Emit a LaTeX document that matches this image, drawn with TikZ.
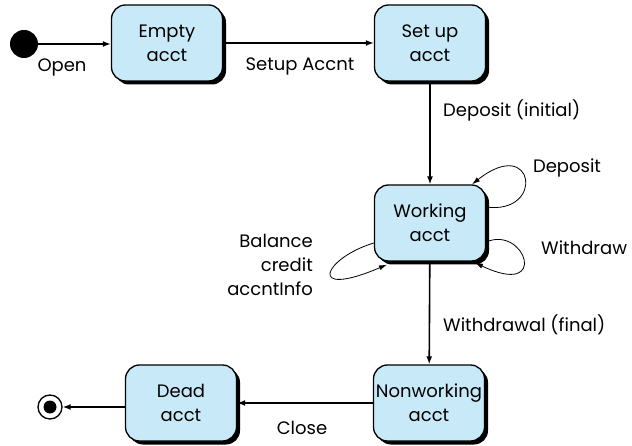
\documentclass[tikz,border=0pt]{standalone}
\usepackage{fontspec}
\setmainfont{Poppins}
\usetikzlibrary{arrows.meta,shadows}
\definecolor{boxblue}{RGB}{200,234,248}
\begin{document}
\begin{tikzpicture}[x=1pt,y=-1pt,
  font=\fontsize{18}{24}\selectfont,
  state/.style={draw=black,line width=1.3pt,fill=boxblue,rounded corners=14pt,
    minimum width=111pt,minimum height=76pt,inner sep=0pt,align=center,
    drop shadow={shadow xshift=3.5pt,shadow yshift=-3.5pt,fill=black,opacity=1}},
  flow/.style={line width=1.6pt,-{Latex[length=8pt,width=6pt]}},
  loop/.style={line width=0.8pt,-{Latex[length=8pt,width=5pt]}},
  lbl/.style={inner sep=0pt}]
\useasboundingbox (0,0) rectangle (632,446);
\node[circle,fill=black,minimum size=28pt,inner sep=0pt] (init) at (24,44) {};
\node[state] (empty) at (167,43) {Empty\\acct};
\node[state] (setup) at (430,43) {Set up\\acct};
\node[state] (work) at (430,223) {Working\\acct};
\node[state] (nonw) at (429,403) {Nonworking\\acct};
\node[state] (dead) at (181,403) {Dead\\acct};
\node[circle,draw=black,line width=1.3pt,minimum size=24pt,inner sep=0pt] (fin) at (50,407) {};
\node[circle,fill=black,minimum size=13pt,inner sep=0pt] (finin) at (fin.center) {};

\draw[flow] (init) -- (empty.west |- init);
\draw[flow] (empty) -- (setup);
\draw[flow] (setup) -- (work);
\draw[flow] (work) -- (nonw);
\draw[flow] (nonw.west) -- (dead.east);
\draw[flow] (dead.west |- fin) -- (fin);

\draw[loop] ([yshift=16pt]work.east) .. controls +(59pt,-8pt) and +(63pt,50pt) .. ([xshift=42pt]work.north);
\draw[loop] ([yshift=-19pt]work.east) .. controls +(39pt,17pt) and +(75pt,-36pt) .. ([xshift=45pt,yshift=-1pt]work.south);
\draw[loop] ([yshift=-20pt]work.west) .. controls +(-50pt,-15pt) and +(-82pt,-35pt) .. ([xshift=-43pt,yshift=-3pt]work.south);

\node[lbl] (lopen) at (62,67) {Open};
\node[lbl] (lsetup) at (300,66) {Setup Accnt};
\node[lbl,anchor=west] (ldepi) at (443,110) {Deposit (initial)};
\node[lbl] (ldep) at (567,168) {Deposit};
\node[lbl,anchor=west] (lwd) at (541,248) {Withdraw};
\node[lbl,anchor=east,align=right] (lbal) at (313,265) {Balance\\credit\\accntInfo};
\node[lbl,anchor=west] (lwdf) at (443,325) {Withdrawal (final)};
\node[lbl] (lclose) at (302,428) {Close};
\end{tikzpicture}
\end{document}
